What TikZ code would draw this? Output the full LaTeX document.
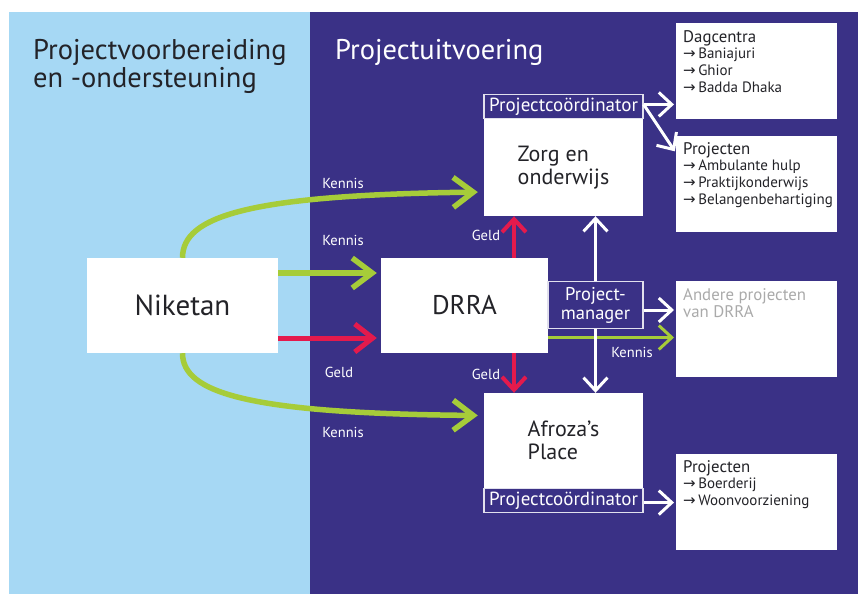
\documentclass[tikz,border=0pt]{standalone}
\usepackage{fontspec}
\setmainfont{PT Sans}
\newfontfamily\symbfont{DejaVu Sans}
\usetikzlibrary{arrows.meta,positioning}
\definecolor{lichtblauw}{RGB}{166,216,244}
\definecolor{donkerblauw}{RGB}{58,49,134}
\definecolor{kennisgroen}{RGB}{166,204,57}
\definecolor{geldrood}{RGB}{228,26,76}
\definecolor{tekstzwart}{RGB}{35,35,40}
\definecolor{tekstgrijs}{RGB}{170,170,170}
\newcommand{\pijl}{{\symbfont →}\,}

\begin{document}
\begin{tikzpicture}[x=1pt,y=-1pt]
\tikzset{box/.style={fill=white,text=tekstzwart,inner sep=0pt}}
\tikzset{coord/.style={fill=donkerblauw,draw=white!85!donkerblauw,line width=1.2pt,text=white,minimum width=159pt,minimum height=23.5pt,inner sep=0pt,font=\fontsize{19}{21}\selectfont}}
\tikzset{lijstbox/.style={fill=white,anchor=north west,minimum width=161pt,minimum height=96pt,inner sep=0pt}}
\tikzset{lijst/.style={text=tekstzwart,align=left,inner sep=0pt,font=\fontsize{15}{16.7}\selectfont}}
\tikzset{lbl/.style={text=white,font=\fontsize{14.5}{16}\selectfont}}
\tikzset{kennis/.style={kennisgroen,line width=5.5pt,-{Straight Barb[length=20pt,width=30pt]}}}
\tikzset{kennisdun/.style={kennisgroen,line width=3pt,-{Straight Barb[length=13pt,width=24pt]}}}
\tikzset{geld/.style={geldrood,line width=4pt,-{Straight Barb[length=13pt,width=24pt]}}}
\tikzset{wit/.style={white,line width=3pt,-{Straight Barb[length=13pt,width=24pt]}}}
\useasboundingbox (0,0) rectangle (858,594);
\fill[lichtblauw] (9,12) rectangle (310,594);
\fill[donkerblauw] (310,12) rectangle (858,594);
\node[anchor=west,align=left,text=tekstzwart,inner sep=0pt,font=\fontsize{28.5}{28}\selectfont] (voorb) at (33,66) {Projectvoorbereiding\\en -ondersteuning};
\node[anchor=west,text=white,inner sep=0pt,font=\fontsize{28.5}{28}\selectfont] (uitv) at (335,52) {Projectuitvoering};
\node[box,minimum width=191pt,minimum height=95pt,font=\fontsize{29}{30}\selectfont] (nik) at (182.5,305.5) {Niketan};
\node[box,minimum width=167pt,minimum height=95pt,font=\fontsize{27}{30}\selectfont] (drra) at (464.5,305.5) {DRRA};
\node[box,minimum width=159pt,minimum height=97pt,align=left,font=\fontsize{22}{23}\selectfont] (zorg) at (563.5,167.5) {Zorg en\\onderwijs};
\node[coord,anchor=south] (zorgpc) at (zorg.north) {Projectcoördinator};
\node[box,minimum width=159pt,minimum height=95pt,align=left,font=\fontsize{22}{23}\selectfont] (afroza) at (563.5,440.5) {Afroza’s\\Place};
\node[coord,anchor=north] (afrozapc) at (afroza.south) {Projectcoördinator};
\node[coord,minimum width=95pt,minimum height=47pt,align=center,font=\fontsize{18.5}{19}\selectfont] (pm) at (595.5,305) {Project-\\manager};
\node[lijstbox] (dag) at (676,23) {};
\node[lijst,below right=7pt and 7pt of dag.north west] (dagtxt) {{\fontsize{16.8}{16.7}\selectfont Dagcentra}\\\pijl Baniajuri\\\pijl Ghior\\\pijl Badda Dhaka};
\node[lijstbox] (proj1) at (676,136) {};
\node[lijst,below right=6pt and 7pt of proj1.north west] (proj1txt) {{\fontsize{16.8}{16.7}\selectfont Projecten}\\\pijl Ambulante hulp\\\pijl Praktijkonderwijs\\\pijl Belangenbehartiging};
\node[lijstbox] (andere) at (676,281) {};
\node[lijst,text=tekstgrijs,below right=7pt and 7pt of andere.north west,font=\fontsize{16.8}{17}\selectfont] (anderetxt) {Andere projecten\\van DRRA};
\node[lijstbox] (proj2) at (676,454) {};
\node[lijst,below right=6pt and 7pt of proj2.north west] (proj2txt) {{\fontsize{16.8}{16.7}\selectfont Projecten}\\\pijl Boerderij\\\pijl Woonvoorziening};
\draw[kennis,shorten >=6pt] (nik.north) .. controls +(0,-42) and +(-234,3) .. ([yshift=-24.5pt]zorg.west);
\draw[kennis,shorten >=6pt] (nik.south) .. controls +(0,40) and +(-234,-2) .. ([yshift=25pt]afroza.west);
\draw[kennis,shorten >=4pt] ([yshift=32.5pt]nik.east) -- ([yshift=32.5pt]drra.west);
\draw[geld,line width=5pt,-{Straight Barb[length=18pt,width=28pt]},shorten >=4pt] ([yshift=-32.5pt]nik.east) -- ([yshift=-32.5pt]drra.west);
\draw[geld] ([xshift=49.5pt]drra.north) -- ([xshift=-49.5pt]zorg.south);
\draw[geld] ([xshift=49.5pt]drra.south) -- ([xshift=-49.5pt]afroza.north);
\draw[kennisdun,shorten >=2pt] ([yshift=-32pt]drra.east) -- ([yshift=-32pt]drra.east -| andere.west);
\draw[wit] (pm.north) -- (pm.north |- zorg.south);
\draw[wit] (pm.south) -- (pm.south |- afroza.north);
\draw[wit,shorten >=2pt] ([yshift=-5pt]pm.east) -- ([yshift=-5pt]pm.east -| andere.west);
\draw[wit,shorten >=2pt] ([yshift=2pt]zorgpc.east) -- ([yshift=2pt]zorgpc.east -| dag.west);
\draw[wit,shorten >=2pt] ([yshift=2pt]zorgpc.east) -- ([yshift=-17pt]proj1.north west);
\draw[wit,shorten >=2pt] ([yshift=-2pt]afrozapc.east) -- ([yshift=-2pt]afrozapc.east -| proj2.west);
\node[lbl] (k1) at (343,183) {Kennis};
\node[lbl] (k2) at (343,240) {Kennis};
\node[lbl] (g1) at (339,372) {Geld};
\node[lbl] (k3) at (343,432) {Kennis};
\node[lbl] (g2) at (486,235) {Geld};
\node[lbl] (g3) at (486,374) {Geld};
\node[lbl] (k4) at (632,352) {Kennis};
\end{tikzpicture}
\end{document}
